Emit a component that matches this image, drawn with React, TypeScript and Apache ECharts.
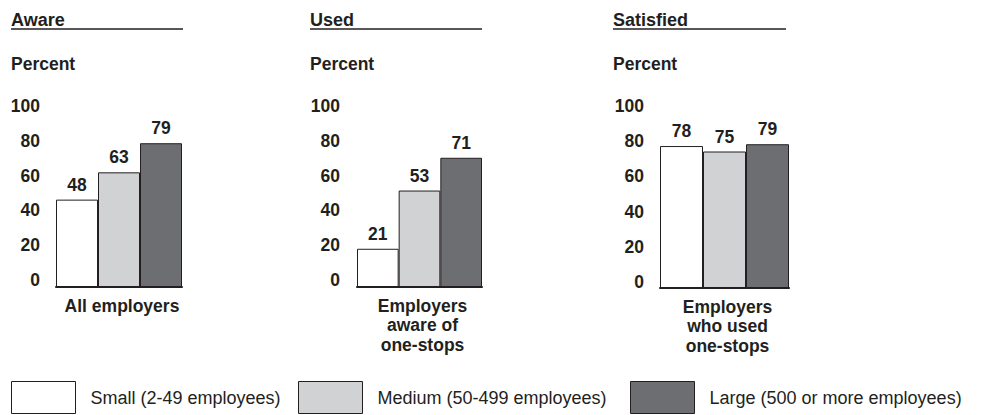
import React, { useEffect, useRef } from "react";
import * as echarts from "echarts";

const panelTitles = ["Aware", "Used", "Satisfied"];
const categories = ["All employers", "Employers\naware of\none-stops", "Employers\nwho used\none-stops"];
const sizeNames = ["Small (2-49 employees)", "Medium (50-499 employees)", "Large (500 or more employees)"];
const smallValues = [48, 21, 78];
const mediumValues = [63, 53, 75];
const largeValues = [79, 71, 79];
const yAxisMin = 0;
const yAxisMax = 100;
const yAxisStep = 20;

const FONT = "'Liberation Sans', Arial, Helvetica, sans-serif";
const INK = "#231f20";
const sizeColors = ["#ffffff", "#d1d2d4", "#6d6e71"];

const barGrids = [
  { left: 56, width: 126, top: 105, height: 182 },
  { left: 357, width: 125, top: 105, height: 182 },
  { left: 660, width: 129, top: 106, height: 182 },
];
const tickGrids = [
  { left: 40, width: 1, top: 106, height: 174 },
  { left: 340, width: 1, top: 106, height: 174 },
  { left: 644, width: 1, top: 106, height: 176 },
];
const titleLefts = [11, 310, 613];
const underlineEnds = [183, 482, 786];
const legendLefts = [11, 298, 630];

export default function App() {
  const ref = useRef<HTMLDivElement>(null);
  useEffect(() => {
    if (!ref.current) return;
    const chart = echarts.init(ref.current, null, { renderer: "svg" });
    const seriesValues = [smallValues, mediumValues, largeValues];

    const grids: any[] = [];
    const xAxes: any[] = [];
    const yAxes: any[] = [];
    const series: any[] = [];

    barGrids.forEach((g, p) => {
      grids.push({ ...g, containLabel: false });
      xAxes.push({
        type: "category",
        gridIndex: p,
        data: [categories[p]],
        z: 10,
        axisLine: { show: true, lineStyle: { color: INK, width: 2 } },
        axisTick: { show: false },
        axisLabel: {
          margin: 9,
          fontFamily: FONT,
          fontWeight: "bold",
          fontSize: 17.5,
          lineHeight: 19.6,
          color: INK,
          padding: [0, 0, 0, 6],
        },
      });
      yAxes.push({
        type: "value",
        gridIndex: p,
        min: yAxisMin,
        max: yAxisMax,
        interval: yAxisStep,
        show: false,
        splitLine: { show: false },
      });
      sizeNames.forEach((name, s) => {
        series.push({
          type: "bar",
          name,
          xAxisIndex: p,
          yAxisIndex: p,
          data: [seriesValues[s][p]],
          barGap: "0%",
          barCategoryGap: "0%",
          itemStyle: { color: sizeColors[s], borderColor: INK, borderWidth: 1 },
          label: {
            show: true,
            position: "top",
            distance: 6,
            fontFamily: FONT,
            fontWeight: "bold",
            fontSize: 17.5,
            color: INK,
          },
        });
      });
    });

    tickGrids.forEach((g, p) => {
      const idx = barGrids.length + p;
      grids.push({ ...g, containLabel: false });
      xAxes.push({ type: "value", gridIndex: idx, show: false, min: 0, max: 1 });
      yAxes.push({
        type: "value",
        gridIndex: idx,
        min: yAxisMin,
        max: yAxisMax,
        interval: yAxisStep,
        axisLine: { show: false },
        axisTick: { show: false },
        splitLine: { show: false },
        axisLabel: {
          margin: 0,
          fontFamily: FONT,
          fontWeight: "bold",
          fontSize: 17.5,
          color: INK,
        },
      });
    });

    const option: any = {
      animation: false,
      backgroundColor: "#ffffff",
      title: panelTitles.map((t, i) => ({
        text: t,
        subtext: "Percent",
        left: titleLefts[i],
        top: 10,
        padding: 0,
        itemGap: 24,
        textStyle: { fontFamily: FONT, fontWeight: "bold", fontSize: 18, lineHeight: 20, color: INK },
        subtextStyle: { fontFamily: FONT, fontWeight: "bold", fontSize: 17.5, lineHeight: 20, color: INK },
      })),
      legend: sizeNames.map((name, i) => ({
        data: [name],
        left: legendLefts[i],
        top: 381,
        padding: 0,
        icon: "rect",
        itemWidth: 64,
        itemHeight: 32,
        selectedMode: false,
        itemStyle: { borderColor: INK, borderWidth: 1 },
        textStyle: { fontFamily: FONT, fontSize: 18, color: INK, padding: [0, 0, 0, 10] },
      })),
      grid: grids,
      xAxis: xAxes,
      yAxis: yAxes,
      series,
      graphic: titleLefts.map((x, i) => ({
        type: "line",
        shape: { x1: x, y1: 29, x2: underlineEnds[i], y2: 29 },
        style: { stroke: INK, lineWidth: 1.5 },
      })),
    };
    chart.setOption(option);
    return () => chart.dispose();
  }, []);
  return <div ref={ref} style={{ position: "fixed", left: 0, top: 0, width: 982, height: 415 }} />;
}
